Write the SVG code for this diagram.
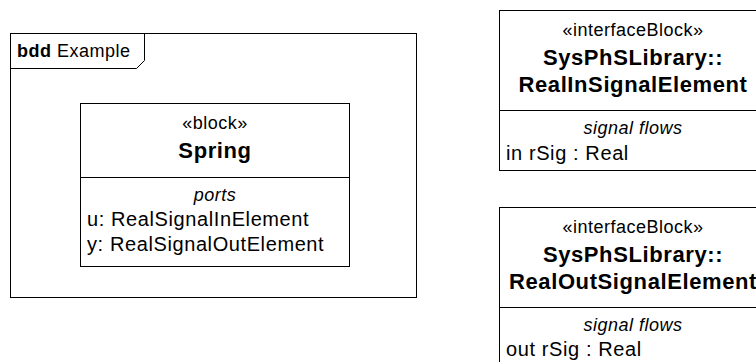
<svg xmlns="http://www.w3.org/2000/svg" width="756" height="362" viewBox="0 0 756 362">
<style>
text{font-family:"Liberation Sans",Arial,sans-serif;fill:#000}
.box{fill:#fff;stroke:#000;stroke-width:1}
.ln{stroke:#000;stroke-width:1;fill:none}
.st{font-size:18px;letter-spacing:0.5px;text-anchor:middle}
.nm{font-size:22px;font-weight:bold;letter-spacing:0.6px;text-anchor:middle}
.hd{font-size:18px;font-style:italic;letter-spacing:0.5px;text-anchor:middle}
.it{font-size:20px;letter-spacing:0.6px}
.fr{font-size:18px;letter-spacing:0.5px}
</style>
<rect width="756" height="362" fill="#fff"/>
<g id="frame">
<rect class="box" x="10.5" y="33.5" width="406" height="264"/>
<path class="ln" d="M10.5,68.5 H136.5 L144.5,60.5 V33.5"/>
<text class="fr" x="17" y="57"><tspan font-weight="bold">bdd</tspan> Example</text>
</g>
<g id="spring">
<rect class="box" x="80.5" y="103.5" width="269" height="163"/>
<line class="ln" x1="80.5" y1="177.5" x2="349.5" y2="177.5"/>
<text class="st" x="215" y="129">«block»</text>
<text class="nm" x="215" y="158">Spring</text>
<text class="hd" x="215" y="201">ports</text>
<text class="it" x="87" y="226">u: RealSignalInElement</text>
<text class="it" x="87" y="251">y: RealSignalOutElement</text>
</g>
<g id="realIn">
<rect class="box" x="499.5" y="10.5" width="268" height="160"/>
<line class="ln" x1="499.5" y1="110.5" x2="767.5" y2="110.5"/>
<text class="st" x="633" y="36">«interfaceBlock»</text>
<text class="nm" x="633" y="65">SysPhSLibrary::</text>
<text class="nm" x="633" y="92">RealInSignalElement</text>
<text class="hd" x="633" y="134">signal flows</text>
<text class="it" x="506" y="160">in rSig : Real</text>
</g>
<g id="realOut">
<rect class="box" x="499.5" y="207.5" width="268" height="170"/>
<line class="ln" x1="499.5" y1="307.5" x2="767.5" y2="307.5"/>
<text class="st" x="633" y="233">«interfaceBlock»</text>
<text class="nm" x="633" y="262">SysPhSLibrary::</text>
<text class="nm" x="633" y="289">RealOutSignalElement</text>
<text class="hd" x="633" y="331">signal flows</text>
<text class="it" x="506" y="356">out rSig : Real</text>
</g>
<g id="connectors"/>
</svg>
